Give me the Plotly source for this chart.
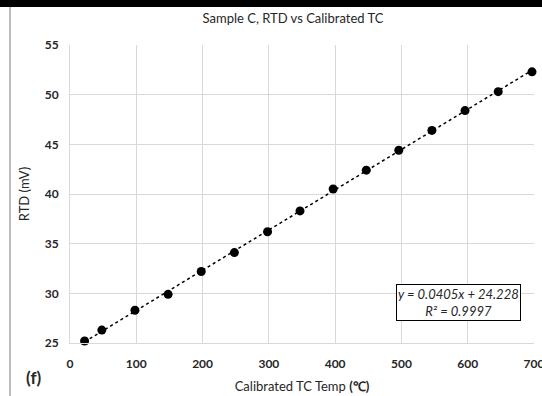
import plotly.graph_objects as go

# Data
tc_temp = [22, 48, 98, 148, 198, 248, 298, 347, 397, 447, 496, 546, 596, 646, 697]
rtd_mv = [25.2, 26.3, 28.3, 29.9, 32.2, 34.1, 36.2, 38.3, 40.5, 42.4, 44.4, 46.4, 48.4, 50.3, 52.3]
slope = 0.0405
intercept = 24.228
r_squared = 0.9997
x_ticks = [0, 100, 200, 300, 400, 500, 600, 700]
y_ticks = [25, 30, 35, 40, 45, 50, 55]

trend_x = [tc_temp[0], tc_temp[-1]]
trend_y = [slope * v + intercept for v in trend_x]

W, H = 542, 396
L, R, T, B = 70, 8, 45, 53
pw, ph = W - L - R, H - T - B

def px(xp):
    return (xp - L) / pw

def py(yp):
    return (H - B - yp) / ph

FONT = "Lato"
TXT = "#262626"
fig = go.Figure()
fig.add_trace(go.Scatter(x=trend_x, y=trend_y, mode="lines",
                         line=dict(color="black", width=1.5, dash="dot"),
                         hoverinfo="skip", showlegend=False, cliponaxis=False))
fig.add_trace(go.Scatter(x=tc_temp, y=rtd_mv, mode="markers",
                         marker=dict(color="black", size=9),
                         showlegend=False, cliponaxis=False))

grid = "#d9d9d9"
fig.update_layout(
    width=W, height=H,
    margin=dict(l=L, r=R, t=T, b=B, autoexpand=False),
    paper_bgcolor="white", plot_bgcolor="white",
    font=dict(family=FONT, color=TXT),
    title=dict(text="Sample C, RTD vs Calibrated TC", x=293 / W, xanchor="center",
               y=1 - 18 / H, yanchor="middle", yref="container", xref="container",
               font=dict(size=13, color=TXT, family=FONT)),
    xaxis=dict(range=[0, 700], tickvals=x_ticks, showgrid=True, gridcolor=grid, gridwidth=1,
               showline=True, linecolor=grid, linewidth=1, zeroline=False, ticks="",
               ticklabeloverflow="allow", ticklabelstandoff=10, automargin=False,
               tickfont=dict(size=12, color=TXT, family=FONT, weight="bold"),
               title=dict(text="Calibrated TC Temp <b>(℃)</b>", standoff=11,
                          font=dict(size=13, color=TXT, family=FONT))),
    yaxis=dict(range=[25, 55], tickvals=y_ticks, showgrid=True, gridcolor=grid, gridwidth=1,
               showline=True, linecolor=grid, linewidth=1, zeroline=False, ticks="",
               ticklabelstandoff=8, automargin=False,
               tickfont=dict(size=12, color=TXT, family=FONT, weight="bold"),
               title=dict(text="RTD (mV)", standoff=12,
                          font=dict(size=13, color=TXT, family=FONT))),
)

# Equation box
fig.add_annotation(xref="paper", yref="paper", x=px(458), y=py(302),
                   text=f"<i>y = {slope}x + {intercept}<br>R² = {r_squared}</i>",
                   showarrow=False, font=dict(size=13, color=TXT, family=FONT),
                   bordercolor="black", borderwidth=1, borderpad=1, bgcolor="white",
                   xanchor="center", yanchor="middle")
# Panel label
fig.add_annotation(xref="paper", yref="paper", x=px(34), y=py(377), text="<b>(f)</b>",
                   showarrow=False, font=dict(size=17, color=TXT, family=FONT),
                   xanchor="center", yanchor="middle")

# Black strip at top and left vertical line
fig.add_shape(type="rect", xref="paper", yref="paper", x0=px(0), x1=px(W), y0=py(7), y1=py(-5),
              fillcolor="black", line=dict(width=0), layer="above")
fig.add_shape(type="line", xref="paper", yref="paper", x0=px(10), x1=px(10), y0=py(7), y1=py(H + 5),
              line=dict(color="#a6a6a6", width=1.5), layer="above")

fig.write_html("out.html")
